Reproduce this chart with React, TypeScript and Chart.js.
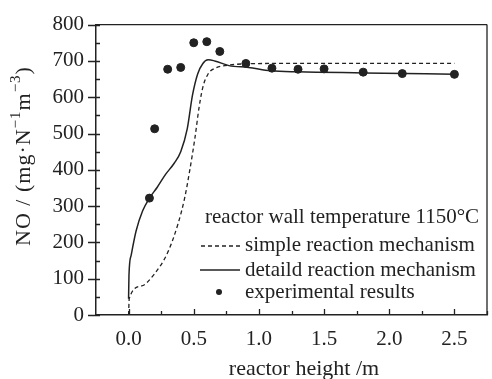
import React, { useEffect, useRef } from "react";
import { Chart, registerables } from "chart.js";

Chart.register(...registerables);

const xTickValues = [0, 0.5, 1.0, 1.5, 2.0, 2.5];
const yTickValues = [0, 100, 200, 300, 400, 500, 600, 700, 800];

const expX = [0.16, 0.2, 0.3, 0.4, 0.5, 0.6, 0.7, 0.9, 1.1, 1.3, 1.5, 1.8, 2.1, 2.5];
const expY = [322, 513, 677, 682, 750, 753, 726, 693, 680, 677, 678, 669, 665, 663];

const detailX = [0, 0.003, 0.02, 0.058, 0.108, 0.16, 0.22, 0.285, 0.35, 0.4, 0.45, 0.49, 0.53, 0.57, 0.61, 0.66, 0.77, 0.92, 1.09, 1.3, 1.8, 2.5];
const detailY = [45, 110, 165, 232, 287, 322, 352, 388, 418, 450, 513, 605, 664, 693, 703, 700, 687, 682, 673, 670, 667, 663];

const simpleX = [0, 0.005, 0.1, 0.2, 0.3, 0.38, 0.43, 0.47, 0.51, 0.54, 0.57, 0.61, 0.67, 0.76, 0.9, 1.2, 2.5];
const simpleY = [0, 45, 80, 114, 172, 252, 322, 400, 490, 570, 628, 664, 681, 688, 692, 693, 693];

const legendTitle = "reactor wall temperature 1150°C";
const legendLabels = ["simple reaction mechanism", "detaild reaction mechanism", "experimental results"];
const xTitle = "reactor height /m";

const INK = "#222";
const FONT = "Liberation Serif";

const zip = (xs: number[], ys: number[]) => xs.map((x, i) => ({ x, y: ys[i] }));

const decorPlugin = {
  id: "decor",
  afterDraw(chart: any) {
    const { ctx, chartArea } = chart;
    const xs = chart.scales.x;
    const ys = chart.scales.y;
    const { left, right, top, bottom } = chartArea;
    ctx.save();
    ctx.strokeStyle = INK;
    ctx.lineWidth = 1.3;
    // frame top and right
    ctx.beginPath();
    ctx.moveTo(left, top);
    ctx.lineTo(right, top);
    ctx.moveTo(right, top);
    ctx.lineTo(right, bottom);
    ctx.stroke();
    // y ticks
    ctx.beginPath();
    for (let v = 0; v <= 800; v += 50) {
      const py = Math.round(ys.getPixelForValue(v)) + 0.5;
      if (v % 100 === 0) {
        ctx.moveTo(left - 8, py);
        ctx.lineTo(left + 4, py);
      } else {
        ctx.moveTo(left, py);
        ctx.lineTo(left + 4, py);
      }
    }
    // x ticks
    for (let v = 0; v <= 2.75; v += 0.25) {
      const px = Math.round(xs.getPixelForValue(v)) + 0.5;
      const major = Math.abs(v * 2 - Math.round(v * 2)) < 1e-6;
      ctx.moveTo(px, bottom);
      ctx.lineTo(px, bottom - (major ? 6 : 4));
    }
    ctx.stroke();

    // legend
    ctx.fillStyle = INK;
    ctx.font = `21px "${FONT}"`;
    ctx.textBaseline = "middle";
    ctx.textAlign = "left";
    ctx.fillText(legendTitle, 205, 217);
    const rows = [245, 270, 292];
    const tx = 245;
    ctx.fillText(legendLabels[0], tx, rows[0]);
    ctx.fillText(legendLabels[1], tx, rows[1]);
    ctx.fillText(legendLabels[2], tx, rows[2]);
    ctx.lineWidth = 1.3;
    ctx.beginPath();
    ctx.setLineDash([4, 3]);
    ctx.moveTo(201, rows[0] + 1);
    ctx.lineTo(240, rows[0] + 1);
    ctx.stroke();
    ctx.setLineDash([]);
    ctx.beginPath();
    ctx.moveTo(200, rows[1]);
    ctx.lineTo(240, rows[1]);
    ctx.stroke();
    ctx.beginPath();
    ctx.arc(219, rows[2], 3, 0, Math.PI * 2);
    ctx.fill();

    // x title
    ctx.font = `22px "${FONT}"`;
    ctx.textAlign = "center";
    ctx.fillText(xTitle, 304, 369);

    // y title with superscripts (rotated)
    ctx.translate(24, 156);
    ctx.rotate(-Math.PI / 2);
    const parts: [string, boolean][] = [
      ["NO / (mg·N", false],
      ["−1", true],
      ["m", false],
      ["−3", true],
      [")", false],
    ];
    const big = `22px "${FONT}"`;
    const small = `15px "${FONT}"`;
    (ctx as any).letterSpacing = "1px";
    let total = 0;
    for (const [t, sup] of parts) {
      ctx.font = sup ? small : big;
      total += ctx.measureText(t).width;
    }
    let cx = -total / 2;
    ctx.textAlign = "left";
    for (const [t, sup] of parts) {
      ctx.font = sup ? small : big;
      ctx.fillText(t, cx, sup ? -8 : 0);
      cx += ctx.measureText(t).width;
    }
    ctx.restore();
  },
};

export default function App() {
  const ref = useRef<HTMLCanvasElement | null>(null);
  useEffect(() => {
    if (!ref.current) return;
    const chart = new Chart(ref.current, {
      type: "line",
      data: {
        datasets: [
          {
            label: "simple reaction mechanism",
            data: zip(simpleX, simpleY),
            borderColor: INK,
            borderWidth: 1.3,
            borderDash: [4, 3],
            pointRadius: 0,
            cubicInterpolationMode: "monotone",
            fill: false,
          },
          {
            label: "detaild reaction mechanism",
            data: zip(detailX, detailY),
            borderColor: INK,
            borderWidth: 1.5,
            pointRadius: 0,
            cubicInterpolationMode: "monotone",
            fill: false,
          },
          {
            label: "experimental results",
            data: zip(expX, expY),
            showLine: false,
            pointRadius: 4,
            pointBackgroundColor: INK,
            pointBorderColor: INK,
            borderColor: INK,
          },
        ],
      },
      options: {
        animation: false,
        responsive: false,
        devicePixelRatio: 1,
        layout: { padding: { top: 21, right: 1, left: 0, bottom: 0 } },
        plugins: { legend: { display: false }, tooltip: { enabled: false } },
        scales: {
          x: {
            type: "linear",
            min: -0.25,
            max: 2.75,
            grid: { display: false, drawTicks: false },
            border: { display: true, color: INK, width: 1.5 },
            afterBuildTicks: (scale: any) => {
              scale.ticks = xTickValues.map((v) => ({ value: v }));
            },
            afterFit: (scale: any) => {
              scale.height = 64;
            },
            ticks: {
              color: INK,
              font: { family: FONT, size: 21 },
              padding: 12,
              maxRotation: 0,
              autoSkip: false,
              callback: (v: any) => Number(v).toFixed(1),
            },
          },
          y: {
            type: "linear",
            min: 0,
            max: 800,
            grid: { display: false, drawTicks: false },
            border: { display: true, color: INK, width: 1.5 },
            afterBuildTicks: (scale: any) => {
              scale.ticks = yTickValues.map((v) => ({ value: v }));
            },
            afterFit: (scale: any) => {
              scale.width = 96;
            },
            ticks: {
              color: INK,
              font: { family: FONT, size: 21 },
              padding: 12,
              autoSkip: false,
            },
          },
        },
      },
      plugins: [decorPlugin],
    } as any);
    return () => chart.destroy();
  }, []);
  return (
    <div style={{ position: "absolute", left: 0, top: 0, width: 492, height: 379, background: "#fff" }}>
      <canvas ref={ref} width={492} height={379} style={{ width: 492, height: 379, display: "block" }} />
    </div>
  );
}
